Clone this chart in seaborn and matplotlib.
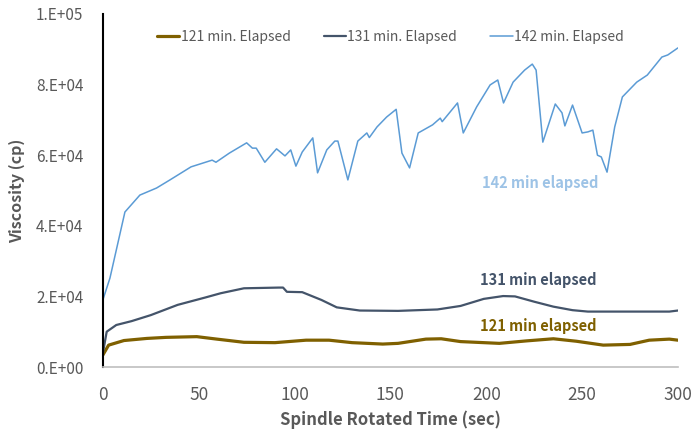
import numpy as np
import pandas as pd
import matplotlib
matplotlib.use("Agg")
import matplotlib.pyplot as plt
import seaborn as sns

# values
t142 = [0, 3.7, 11.5, 19.3, 28, 35, 46, 57, 59, 66, 75, 78, 80, 84.5, 90.6, 95, 98, 100.7,
        104, 109.5, 112, 116.8, 121, 122.6, 127.8, 133, 137.7, 139, 143, 148, 153, 156,
        160, 164.5, 172, 176, 177, 185, 188, 195, 202, 206, 209, 214, 220, 224, 226,
        229.5, 236, 239.5, 241, 245, 250, 253, 255.6, 258, 260, 263, 267, 271, 278.5,
        284, 291.6, 294.7, 300]
v142 = [1.9e4, 2.52e4, 4.39e4, 4.87e4, 5.07e4, 5.3e4, 5.67e4, 5.86e4, 5.8e4, 6.06e4, 6.35e4,
        6.2e4, 6.2e4, 5.8e4, 6.18e4, 5.98e4, 6.15e4, 5.69e4, 6.09e4, 6.49e4, 5.5e4, 6.15e4,
        6.4e4, 6.4e4, 5.3e4, 6.4e4, 6.63e4, 6.5e4, 6.8e4, 7.08e4, 7.3e4, 6.06e4, 5.64e4,
        6.63e4, 6.86e4, 7.05e4, 6.95e4, 7.48e4, 6.63e4, 7.37e4, 7.99e4, 8.13e4, 7.48e4,
        8.07e4, 8.41e4, 8.58e4, 8.41e4, 6.37e4, 7.45e4, 7.2e4, 6.83e4, 7.42e4, 6.63e4,
        6.66e4, 6.71e4, 6.0e4, 5.95e4, 5.52e4, 6.8e4, 7.65e4, 8.07e4, 8.27e4, 8.78e4,
        8.84e4, 9.04e4]

t131 = [0, 2, 7, 15, 25, 39, 53.5, 61.5, 73.6, 91.8, 94, 96, 104, 114, 122, 134, 154,
        174.5, 186.6, 198.7, 208.8, 215, 225, 235, 245, 253, 275, 295.5, 300]
v131 = [3.9e3, 1.0e4, 1.19e4, 1.3e4, 1.47e4, 1.76e4, 1.97e4, 2.09e4, 2.23e4, 2.25e4, 2.25e4,
        2.13e4, 2.12e4, 1.9e4, 1.69e4, 1.6e4, 1.59e4, 1.63e4, 1.73e4, 1.93e4, 2.01e4,
        2.0e4, 1.85e4, 1.71e4, 1.61e4, 1.57e4, 1.57e4, 1.57e4, 1.6e4]

t121 = [0, 3, 11, 23, 33, 49, 59.5, 73.6, 89.8, 106, 118, 130, 146, 154, 168.5, 176.5,
        186.6, 206.8, 221, 235, 247, 261, 275, 285, 295.5, 300]
v121 = [3.4e3, 6.2e3, 7.5e3, 8.1e3, 8.4e3, 8.6e3, 7.9e3, 7.0e3, 6.9e3, 7.6e3, 7.6e3, 6.9e3,
        6.5e3, 6.7e3, 7.9e3, 8.0e3, 7.2e3, 6.7e3, 7.4e3, 8.0e3, 7.3e3, 6.2e3, 6.4e3, 7.6e3,
        7.9e3, 7.6e3]

xticks = [0, 50, 100, 150, 200, 250, 300]
yticks = [0, 2e4, 4e4, 6e4, 8e4, 1e5]
ytick_labels = ["0.E+00", "2.E+04", "4.E+04", "6.E+04", "8.E+04", "1.E+05"]

sns.set_style("white")
plt.rcParams['font.family'] = ['Noto Sans CJK KR', 'DejaVu Sans']

gold = "#7F6000"
navy = "#44546A"
sky = "#5B9BD5"
grey = "#595959"

fig, ax = plt.subplots(figsize=(6.95, 4.33), dpi=100)
fig.subplots_adjust(left=0.148, right=0.9755, bottom=0.1524, top=0.9677)

sns.lineplot(x=t121, y=v121, ax=ax, color=gold, linewidth=2.3, label="121 min. Elapsed")
sns.lineplot(x=t131, y=v131, ax=ax, color=navy, linewidth=1.6, label="131 min. Elapsed")
sns.lineplot(x=t142, y=v142, ax=ax, color=sky, linewidth=1.1, label="142 min. Elapsed")

ax.set_xlim(0, 300)
ax.set_ylim(0, 1e5)
ax.set_xticks(xticks)
ax.set_xticklabels([str(x) for x in xticks], fontsize=12.5, color=grey)
ax.set_yticks(yticks)
ax.set_yticklabels(ytick_labels, fontsize=11, color=grey)

for s in ["top", "right"]:
    ax.spines[s].set_visible(False)
ax.spines["left"].set_color("black")
ax.spines["left"].set_linewidth(1.5)
ax.spines["bottom"].set_color("#BFBFBF")
ax.spines["bottom"].set_linewidth(1.2)
ax.tick_params(axis="y", direction="in", length=5, width=1.2, color="black", pad=14)
ax.tick_params(axis="x", direction="out", length=5, width=1.2, color="#BFBFBF", pad=9)

ax.set_xlabel("Spindle Rotated Time (sec)", fontsize=12, fontweight="bold", color=grey)
ax.set_ylabel("Viscosity (cp)", fontsize=11.5, fontweight="bold", color=grey)
ax.yaxis.set_label_coords(-0.135, 0.5)

ax.legend(loc="upper center", bbox_to_anchor=(0.5, 0.99), ncol=3, frameon=False,
          fontsize=10, handlelength=1.6, handletextpad=0.1, columnspacing=2.4,
          labelcolor=grey)

ax.text(228, 5.2e4, "142 min elapsed", color="#9DC3E6", fontsize=10.5,
        fontweight="bold", ha="center", va="center")
ax.text(227, 2.46e4, "131 min elapsed", color=navy, fontsize=10.5,
        fontweight="bold", ha="center", va="center")
ax.text(227, 1.16e4, "121 min elapsed", color=gold, fontsize=10.5,
        fontweight="bold", ha="center", va="center")

fig.savefig("out.png", dpi=100)
